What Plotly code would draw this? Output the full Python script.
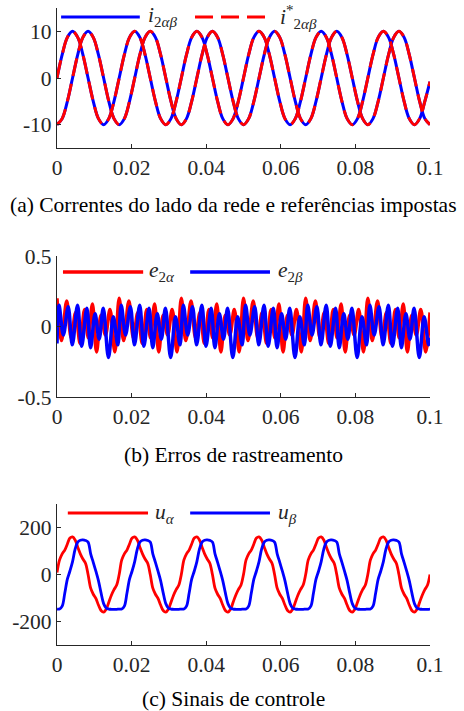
import plotly.graph_objects as go

# ---------------- figure geometry (pixels of the 464x711 page) ----------------
W, H = 464, 711
AX_LEFT, AX_RIGHT = 57, 430
PANEL_A = (8, 148)      # top, bottom pixel rows of panel (a)
PANEL_B = (256, 397)
PANEL_C = (504, 645)

AXIS_COLOR = "#262626"
FONT = "Liberation Serif"
FS = 21.5
BLUE = "#0000FF"
RED = "#FF0000"

# ---------------- data ----------------
X_TICKS_MS = [0, 20, 40, 60, 80, 100]
X_TICK_LABELS = ["0", "0.02", "0.04", "0.06", "0.08", "0.1"]

# (a) grid currents and imposed references (time in ms)
T_A_MS = [0, 1.39, 2.78, 4.17, 5.56, 6.94, 8.33, 9.72, 11.11,
          12.5, 13.89, 15.28, 16.67, 18.06, 19.44, 20.83, 22.22, 23.61,
          25, 26.39, 27.78, 29.17, 30.56, 31.94, 33.33, 34.72, 36.11,
          37.5, 38.89, 40.28, 41.67, 43.06, 44.44, 45.83, 47.22, 48.61,
          50, 51.39, 52.78, 54.17, 55.56, 56.94, 58.33, 59.72, 61.11,
          62.5, 63.89, 65.28, 66.67, 68.06, 69.44, 70.83, 72.22, 73.61,
          75, 76.39, 77.78, 79.17, 80.56, 81.94, 83.33, 84.72, 86.11,
          87.5, 88.89, 90.28, 91.67, 93.06, 94.44, 95.83, 97.22, 98.61,
          100]
I_ALPHA = [0, 5, 8.7, 10, 8.7, 5, 0, -5, -8.7, -10, -8.7, -5,
           0, 5, 8.7, 10, 8.7, 5, 0, -5, -8.7, -10, -8.7, -5,
           0, 5, 8.7, 10, 8.7, 5, 0, -5, -8.7, -10, -8.7, -5,
           0, 5, 8.7, 10, 8.7, 5, 0, -5, -8.7, -10, -8.7, -5,
           0, 5, 8.7, 10, 8.7, 5, 0, -5, -8.7, -10, -8.7, -5,
           0, 5, 8.7, 10, 8.7, 5, 0, -5, -8.7, -10, -8.7, -5,
           -0.8]
I_BETA = [-10, -8.7, -5, 0, 5, 8.7, 10, 8.7, 5, 0, -5, -8.7,
          -10, -8.7, -5, 0, 5, 8.7, 10, 8.7, 5, 0, -5, -8.7,
          -10, -8.7, -5, 0, 5, 8.7, 10, 8.7, 5, 0, -5, -8.7,
          -10, -8.7, -5, 0, 5, 8.7, 10, 8.7, 5, 0, -5, -8.7,
          -10, -8.7, -5, 0, 5, 8.7, 10, 8.7, 5, 0, -5, -8.7,
          -10, -8.7, -5, 0, 5, 8.7, 10, 8.7, 5, 0, -5, -8.7,
          -10]
# the references coincide with the measured currents at this scale
I_REF_ALPHA = list(I_ALPHA)
I_REF_BETA = list(I_BETA)

# (b) tracking errors (extrema, time in ms)
E_ALPHA_T_MS = [0.0, 1.2, 2.6, 3.8, 5.0, 6.2, 7.4, 8.4, 9.5, 10.6, 11.8, 13.0, 14.2, 15.5,
                16.67, 17.87, 19.27, 20.47, 21.67, 22.87, 24.07, 25.07, 26.17, 27.27, 28.47, 29.67, 30.87, 32.17,
                33.33, 34.53, 35.93, 37.13, 38.33, 39.53, 40.73, 41.73, 42.83, 43.93, 45.13, 46.33, 47.53, 48.83,
                50.0, 51.2, 52.6, 53.8, 55.0, 56.2, 57.4, 58.4, 59.5, 60.6, 61.8, 63.0, 64.2, 65.5,
                66.67, 67.87, 69.27, 70.47, 71.67, 72.87, 74.07, 75.07, 76.17, 77.27, 78.47, 79.67, 80.87, 82.17,
                83.33, 84.53, 85.93, 87.13, 88.33, 89.53, 90.73, 91.73, 92.83, 93.93, 95.13, 96.33, 97.53, 98.83,
                100.0]
E_ALPHA = [0.20, -0.10, 0.18, -0.08, 0.10, -0.12, 0.12, -0.08, 0.16, -0.18, 0.08, -0.06, 0.12, -0.18,
           0.20, -0.10, 0.18, -0.08, 0.10, -0.12, 0.12, -0.08, 0.16, -0.18, 0.08, -0.06, 0.12, -0.18,
           0.20, -0.10, 0.18, -0.08, 0.10, -0.12, 0.12, -0.08, 0.16, -0.18, 0.08, -0.06, 0.12, -0.18,
           0.20, -0.10, 0.18, -0.08, 0.10, -0.12, 0.12, -0.08, 0.16, -0.18, 0.08, -0.06, 0.12, -0.18,
           0.20, -0.10, 0.18, -0.08, 0.10, -0.12, 0.12, -0.08, 0.16, -0.18, 0.08, -0.06, 0.12, -0.18,
           0.20, -0.10, 0.18, -0.08, 0.10, -0.12, 0.12, -0.08, 0.16, -0.18, 0.08, -0.06, 0.12, -0.18,
           0.10]
E_BETA_T_MS = [0.0, 0.55, 1.7, 3.0, 4.1, 5.5, 6.6, 8.0, 9.0, 10.2, 11.3, 12.4, 13.8, 15.1, 16.3,
               17.22, 18.37, 19.67, 20.77, 22.17, 23.27, 24.67, 25.67, 26.87, 27.97, 29.07, 30.47, 31.77, 32.97,
               33.88, 35.03, 36.33, 37.43, 38.83, 39.93, 41.33, 42.33, 43.53, 44.63, 45.73, 47.13, 48.43, 49.63,
               50.55, 51.7, 53.0, 54.1, 55.5, 56.6, 58.0, 59.0, 60.2, 61.3, 62.4, 63.8, 65.1, 66.3,
               67.22, 68.37, 69.67, 70.77, 72.17, 73.27, 74.67, 75.67, 76.87, 77.97, 79.07, 80.47, 81.77, 82.97,
               83.88, 85.03, 86.33, 87.43, 88.83, 89.93, 91.33, 92.33, 93.53, 94.63, 95.73, 97.13, 98.43, 99.63,
               100.0]
E_BETA = [-0.12,
          0.15, -0.06, 0.14, -0.13, 0.15, -0.14, 0.13, -0.15, 0.09, -0.09, 0.13, -0.22, 0.07, -0.13,
          0.15, -0.06, 0.14, -0.13, 0.15, -0.14, 0.13, -0.15, 0.09, -0.09, 0.13, -0.22, 0.07, -0.13,
          0.15, -0.06, 0.14, -0.13, 0.15, -0.14, 0.13, -0.15, 0.09, -0.09, 0.13, -0.22, 0.07, -0.13,
          0.15, -0.06, 0.14, -0.13, 0.15, -0.14, 0.13, -0.15, 0.09, -0.09, 0.13, -0.22, 0.07, -0.13,
          0.15, -0.06, 0.14, -0.13, 0.15, -0.14, 0.13, -0.15, 0.09, -0.09, 0.13, -0.22, 0.07, -0.13,
          0.15, -0.06, 0.14, -0.13, 0.15, -0.14, 0.13, -0.15, 0.09, -0.09, 0.13, -0.22, 0.07, -0.13,
          -0.08]

# (c) control signals (time in ms)
T_C_MS = [0, 0.69, 1.39, 2.08, 2.78, 3.47, 4.17, 4.86, 5.56, 6.25, 6.94, 7.64, 8.33, 9.03, 9.72, 10.42, 11.11, 11.81,
          12.5, 13.19, 13.89, 14.58, 15.28, 15.97, 16.67, 17.36, 18.06, 18.75, 19.44, 20.14, 20.83, 21.53, 22.22, 22.92, 23.61, 24.31,
          25, 25.69, 26.39, 27.08, 27.78, 28.47, 29.17, 29.86, 30.56, 31.25, 31.94, 32.64, 33.33, 34.03, 34.72, 35.42, 36.11, 36.81,
          37.5, 38.19, 38.89, 39.58, 40.28, 40.97, 41.67, 42.36, 43.06, 43.75, 44.44, 45.14, 45.83, 46.53, 47.22, 47.92, 48.61, 49.31,
          50, 50.69, 51.39, 52.08, 52.78, 53.47, 54.17, 54.86, 55.56, 56.25, 56.94, 57.64, 58.33, 59.03, 59.72, 60.42, 61.11, 61.81,
          62.5, 63.19, 63.89, 64.58, 65.28, 65.97, 66.67, 67.36, 68.06, 68.75, 69.44, 70.14, 70.83, 71.53, 72.22, 72.92, 73.61, 74.31,
          75, 75.69, 76.39, 77.08, 77.78, 78.47, 79.17, 79.86, 80.56, 81.25, 81.94, 82.64, 83.33, 84.03, 84.72, 85.42, 86.11, 86.81,
          87.5, 88.19, 88.89, 89.58, 90.28, 90.97, 91.67, 92.36, 93.06, 93.75, 94.44, 95.14, 95.83, 96.53, 97.22, 97.92, 98.61, 99.31,
          100]
U_ALPHA = [8, 62, 88, 104, 130, 155, 160, 147, 116, 88, 66, 48, 0, -58, -84, -102, -130, -153, -160, -148, -118, -88, -64, -46,
           0, 62, 88, 104, 130, 155, 160, 147, 116, 88, 66, 48, 0, -58, -84, -102, -130, -153, -160, -148, -118, -88, -64, -46,
           0, 62, 88, 104, 130, 155, 160, 147, 116, 88, 66, 48, 0, -58, -84, -102, -130, -153, -160, -148, -118, -88, -64, -46,
           0, 62, 88, 104, 130, 155, 160, 147, 116, 88, 66, 48, 0, -58, -84, -102, -130, -153, -160, -148, -118, -88, -64, -46,
           0, 62, 88, 104, 130, 155, 160, 147, 116, 88, 66, 48, 0, -58, -84, -102, -130, -153, -160, -148, -118, -88, -64, -46,
           0, 62, 88, 104, 130, 155, 160, 147, 116, 88, 66, 48, 0, -58, -84, -102, -130, -153, -160, -148, -118, -88, -64, -46,
           0]
U_BETA = [-147, -147, -135, -80, -20, 15, 55, 108, 138, 146, 147, 145, 138, 88, 52, 14, -26, -78, -124, -143, -147, -148, -148, -148,
          -147, -147, -135, -80, -20, 15, 55, 108, 138, 146, 147, 145, 138, 88, 52, 14, -26, -78, -124, -143, -147, -148, -148, -148,
          -147, -147, -135, -80, -20, 15, 55, 108, 138, 146, 147, 145, 138, 88, 52, 14, -26, -78, -124, -143, -147, -148, -148, -148,
          -147, -147, -135, -80, -20, 15, 55, 108, 138, 146, 147, 145, 138, 88, 52, 14, -26, -78, -124, -143, -147, -148, -148, -148,
          -147, -147, -135, -80, -20, 15, 55, 108, 138, 146, 147, 145, 138, 88, 52, 14, -26, -78, -124, -143, -147, -148, -148, -148,
          -147, -147, -135, -80, -20, 15, 55, 108, 138, 146, 147, 145, 138, 88, 52, 14, -26, -78, -124, -143, -147, -148, -148, -148,
          -147]

Y_A_RANGE, Y_A_TICKS, Y_A_LABELS = [-15, 15], [-10, 0, 10], ["-10", "0", "10"]
Y_B_RANGE, Y_B_TICKS, Y_B_LABELS = [-0.5, 0.5], [-0.5, 0, 0.5], ["-0.5", "0", "0.5"]
Y_C_RANGE, Y_C_TICKS, Y_C_LABELS = [-300, 300], [-200, 0, 200], ["-200", "0", "200"]

CAPTIONS = ["(a) Correntes do lado da rede e referências impostas",
            "(b) Erros de rastreamento",
            "(c) Sinais de controle"]
LEGEND_A = ["<i>i</i><sub>2<i>αβ</i></sub>", "<i>i</i><sup>*</sup><sub>2<i>αβ</i></sub>"]
LEGEND_B = ["<i>e</i><sub>2<i>α</i></sub>", "<i>e</i><sub>2<i>β</i></sub>"]
LEGEND_C = ["<i>u</i><sub><i>α</i></sub>", "<i>u</i><sub><i>β</i></sub>"]

# ---------------- figure ----------------
fig = go.Figure()


def line_trace(x, y, color, width, dash="solid", xa="x", ya="y"):
    return go.Scatter(x=x, y=y, mode="lines", xaxis=xa, yaxis=ya, showlegend=False,
                      line=dict(color=color, width=width, dash=dash, shape="spline", smoothing=1),
                      hoverinfo="skip")


DASH = "18px,8px"
# (a)
fig.add_trace(line_trace(T_A_MS, I_ALPHA, BLUE, 3))
fig.add_trace(line_trace(T_A_MS, I_BETA, BLUE, 3))
fig.add_trace(line_trace(T_A_MS, I_REF_ALPHA, RED, 3, DASH))
fig.add_trace(line_trace(T_A_MS, I_REF_BETA, RED, 3, DASH))
# (b)
fig.add_trace(line_trace(E_ALPHA_T_MS, E_ALPHA, RED, 3.5, xa="x2", ya="y2"))
fig.add_trace(line_trace(E_BETA_T_MS, E_BETA, BLUE, 3.5, xa="x2", ya="y2"))
# (c)
fig.add_trace(line_trace(T_C_MS, U_ALPHA, RED, 2.8, xa="x3", ya="y3"))
fig.add_trace(line_trace(T_C_MS, U_BETA, BLUE, 2.8, xa="x3", ya="y3"))

tickfont = dict(family=FONT, size=FS, color=AXIS_COLOR)
xdom = [AX_LEFT / W, AX_RIGHT / W]


def xaxis(anchor):
    return dict(domain=xdom, anchor=anchor, range=[0, 100], tickmode="array",
                tickvals=X_TICKS_MS, ticktext=X_TICK_LABELS, ticks="inside", ticklen=4,
                tickcolor=AXIS_COLOR, tickwidth=1, showline=True, linecolor=AXIS_COLOR,
                linewidth=1.3, showgrid=False, zeroline=False, tickfont=tickfont,
                automargin=False, fixedrange=True)


def yaxis(anchor, panel, rng, ticks, labels):
    top, bot = panel
    return dict(domain=[1 - bot / H, 1 - top / H], anchor=anchor, range=rng, tickmode="array",
                tickvals=ticks, ticktext=labels, ticks="inside", ticklen=4,
                tickcolor=AXIS_COLOR, tickwidth=1, showline=True, linecolor=AXIS_COLOR,
                linewidth=1.3, showgrid=False, zeroline=False, tickfont=tickfont,
                automargin=False, fixedrange=True)


shapes, annotations = [], []


def legend_item(xa, ya, x0, x1, y, color, dash, width, label, lx):
    shapes.append(dict(type="line", xref=f"{xa} domain", yref=f"{ya} domain",
                       x0=x0, x1=x1, y0=y, y1=y, line=dict(color=color, width=width, dash=dash)))
    annotations.append(dict(xref=f"{xa} domain", yref=f"{ya} domain", x=lx, y=y, text=label,
                            showarrow=False, xanchor="left", yanchor="middle",
                            font=dict(family=FONT, size=FS, color=AXIS_COLOR)))


# legends (positions in axis-domain fractions)
legend_item("x", "y", 0.011, 0.222, 0.936, BLUE, "solid", 3, LEGEND_A[0], 0.238)
legend_item("x", "y", 0.370, 0.571, 0.936, RED, DASH, 3, LEGEND_A[1], 0.592)
legend_item("x2", "y2", 0.016, 0.231, 0.887, RED, "solid", 3.5, LEGEND_B[0], 0.240)
legend_item("x2", "y2", 0.357, 0.571, 0.887, BLUE, "solid", 3.5, LEGEND_B[1], 0.588)
legend_item("x3", "y3", 0.029, 0.244, 0.936, RED, "solid", 2.8, LEGEND_C[0], 0.258)
legend_item("x3", "y3", 0.357, 0.571, 0.936, BLUE, "solid", 2.8, LEGEND_C[1], 0.588)

for cap, ypix in zip(CAPTIONS, [205, 455, 699]):
    annotations.append(dict(xref="paper", yref="paper", x=233 / W, y=1 - ypix / H, text=cap,
                            showarrow=False, xanchor="center", yanchor="middle",
                            font=dict(family=FONT, size=FS, color="#000000")))

fig.update_layout(
    template="none",
    width=W, height=H, margin=dict(l=0, r=0, t=0, b=0, pad=0), autosize=False,
    font=dict(family=FONT, size=FS, color=AXIS_COLOR),
    paper_bgcolor="white", plot_bgcolor="white", showlegend=False,
    xaxis=xaxis("y"), yaxis=yaxis("x", PANEL_A, Y_A_RANGE, Y_A_TICKS, Y_A_LABELS),
    xaxis2=xaxis("y2"), yaxis2=yaxis("x2", PANEL_B, Y_B_RANGE, Y_B_TICKS, Y_B_LABELS),
    xaxis3=xaxis("y3"), yaxis3=yaxis("x3", PANEL_C, Y_C_RANGE, Y_C_TICKS, Y_C_LABELS),
    shapes=shapes, annotations=annotations,
)

fig.write_html("out.html", config={"displayModeBar": False})
